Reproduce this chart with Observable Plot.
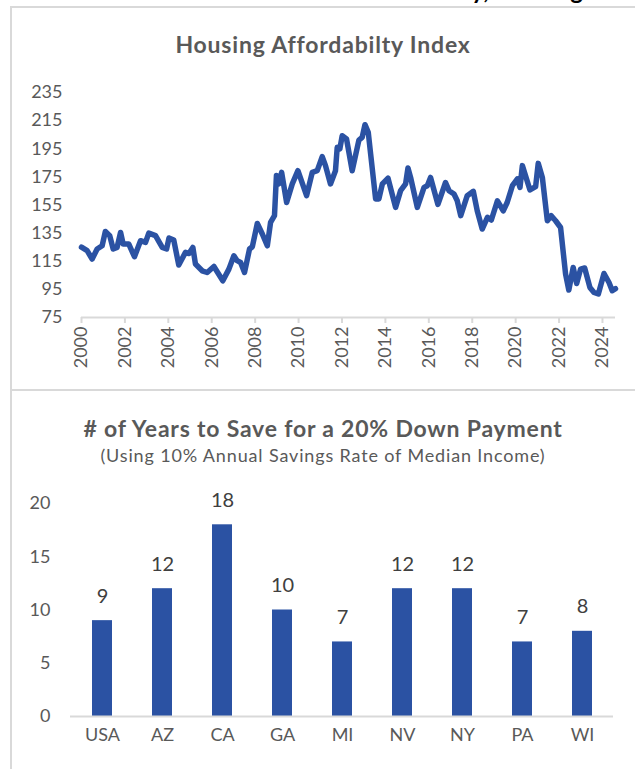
<!DOCTYPE html>
<html>
<head>
<meta charset="utf-8">
<script src="https://cdn.jsdelivr.net/npm/d3@7"></script>
<script src="https://cdn.jsdelivr.net/npm/@observablehq/plot@0.6"></script>
<style>
  html, body { margin: 0; padding: 0; background: #fff; }
  body { width: 635px; height: 769px; position: relative; overflow: hidden; font-family: Lato, "Open Sans", sans-serif; }
  .abs { position: absolute; }
  .title { position: absolute; left: 11px; width: 624px; text-align: center; color: #595959; white-space: nowrap; line-height: 1.2; }
</style>
</head>
<body>
<div class="abs" style="top:0;left:0;width:635px;height:6px;overflow:hidden;">
  <div class="abs" style="right:52px;top:-22px;font:bold 24px Lato;line-height:24px;color:#000;white-space:nowrap;">Affordability, Housing</div>
</div>
<div class="abs" style="left:11px;top:6px;width:624px;height:2px;background:#d9d9d9;"></div>
<div class="abs" style="left:10px;top:6px;width:2px;height:763px;background:#d9d9d9;"></div>
<div class="abs" style="left:11px;top:389px;width:624px;height:2px;background:#d9d9d9;"></div>
<div id="top" class="abs" style="left:0;top:0;"></div>
<div id="bottom" class="abs" style="left:0;top:390px;"></div>
<div id="t1" class="title" style="top:31px;font-weight:bold;font-size:23px;letter-spacing:0.8px;"></div>
<div id="t2" class="title" style="top:415px;font-weight:bold;font-size:23px;letter-spacing:0.8px;"></div>
<div id="t3" class="title" style="top:445px;font-size:18px;letter-spacing:0.85px;"></div>
<script>
// ---- Housing Affordability Index ----
const years = [2000.0,2000.26,2000.49,2000.72,2000.95,2001.1,2001.3,2001.46,2001.64,2001.8,2001.92,2002.18,2002.44,2002.72,2002.95,2003.1,2003.41,2003.72,2003.92,2004.03,2004.25,2004.48,2004.79,2004.95,2005.13,2005.25,2005.56,2005.79,2006.1,2006.51,2006.79,2007.02,2007.17,2007.33,2007.51,2007.74,2007.87,2008.1,2008.33,2008.56,2008.71,2008.89,2008.98,2009.09,2009.22,2009.45,2009.71,2009.97,2010.37,2010.63,2010.86,2011.09,2011.24,2011.47,2011.7,2011.78,2011.9,2012.01,2012.21,2012.47,2012.78,2012.93,2013.06,2013.21,2013.32,2013.55,2013.7,2013.86,2014.12,2014.47,2014.7,2014.93,2015.04,2015.16,2015.47,2015.78,2015.93,2016.08,2016.42,2016.77,2016.93,2017.16,2017.31,2017.47,2017.77,2018.05,2018.23,2018.46,2018.7,2018.88,2019.16,2019.43,2019.61,2019.85,2020.08,2020.2,2020.31,2020.66,2020.92,2021.04,2021.23,2021.46,2021.64,2021.84,2022.07,2022.3,2022.45,2022.65,2022.81,2022.99,2023.18,2023.42,2023.61,2023.81,2024.07,2024.3,2024.45,2024.6];
const index = [125,122.5,116.6,123.7,126,136.2,133.2,123.7,124.8,135.5,127.2,127.2,118.2,129.6,128.4,135,133.2,124.8,123.7,131.5,130.1,112.3,121.3,120.5,124.8,113,108.2,107,111.3,101.1,109.4,118.9,115.4,114.1,107,123.7,125.3,141.9,134.4,126,142.6,147.4,175.9,170,178.2,156.8,170,179.4,161.6,178.2,179.4,189.4,183,170,179.4,196,194.9,204.3,202,179.4,201.2,203.1,212.1,206.7,191.3,159.3,159.3,170,174,153.3,165.2,170,181.3,174.6,153.3,167.5,168.7,174.6,155.4,171,165.2,162.8,158,147.4,161.6,164.7,150.9,137.9,146.2,144.3,158,150.9,156.8,168.7,173.5,167.5,183,165.7,168,184.6,174.6,143.8,147.4,143.8,139,105.9,94.5,110.6,99.2,109.4,110.2,96.4,92.8,91.7,106.3,99.9,94,95.5];
const yTicksTop = [75,95,115,135,155,175,195,215,235];
const xTicksTop = [2000,2002,2004,2006,2008,2010,2012,2014,2016,2018,2020,2022,2024];
const titleTop = "Housing Affordabilty Index";

// ---- Years to save for a 20% down payment ----
const states = ["USA","AZ","CA","GA","MI","NV","NY","PA","WI"];
const yearsToSave = [9,12,18,10,7,12,12,7,8];
const yTicksBottom = [0,5,10,15,20];
const titleBottom = "# of Years to Save for a 20% Down Payment";
const subtitleBottom = "(Using 10% Annual Savings Rate of Median Income)";

const blue = "#2B52A3";
const tickColor = "#595959";
const lineColor = "#d9d9d9";

document.getElementById("t1").textContent = titleTop;
document.getElementById("t2").textContent = titleBottom;
document.getElementById("t3").textContent = subtitleBottom;

const hai = years.map((y, i) => ({year: y, value: index[i]}));
const bars = states.map((s, i) => ({state: s, years: yearsToSave[i]}));

const topChart = Plot.plot({
  width: 635, height: 390,
  marginTop: 92, marginBottom: 73, marginLeft: 81, marginRight: 20,
  style: {fontFamily: "Lato", fontSize: "18px", color: tickColor, background: "transparent", overflow: "visible"},
  x: {domain: [2000, 2024.6]},
  y: {domain: [75, 235]},
  marks: [
    Plot.ruleY([75], {stroke: lineColor, strokeWidth: 2}),
    Plot.axisY({ticks: yTicksTop, tickSize: 0, tickPadding: 19, label: null}),
    Plot.axisX({ticks: xTicksTop, tickFormat: d => String(d), tickRotate: -90, tickSize: 6, tickPadding: 3, stroke: lineColor, strokeWidth: 2, label: null}),
    Plot.line(hai, {x: "year", y: "value", stroke: blue, strokeWidth: 5.5, strokeLinejoin: "round", strokeLinecap: "round"})
  ]
});
document.getElementById("top").appendChild(topChart);

const bottomChart = Plot.plot({
  width: 635, height: 379,
  marginTop: 113, marginBottom: 53, marginLeft: 70, marginRight: 22,
  style: {fontFamily: "Lato", fontSize: "18px", color: tickColor, background: "transparent", overflow: "visible"},
  x: {domain: states, paddingInner: 0.67, paddingOuter: 0.335},
  y: {domain: [0, 20]},
  marks: [
    Plot.axisY({ticks: yTicksBottom, tickSize: 0, tickPadding: 20, label: null}),
    Plot.axisX({tickSize: 0, tickPadding: 12, label: null}),
    Plot.barY(bars, {x: "state", y: "years", fill: blue}),
    Plot.ruleY([0], {stroke: lineColor, strokeWidth: 2}),
    Plot.text(bars, {x: "state", y: "years", text: d => String(d.years), dy: -18, fill: "#404040", fontSize: 20, lineAnchor: "bottom"})
  ]
});
document.getElementById("bottom").appendChild(bottomChart);
</script>
</body>
</html>
